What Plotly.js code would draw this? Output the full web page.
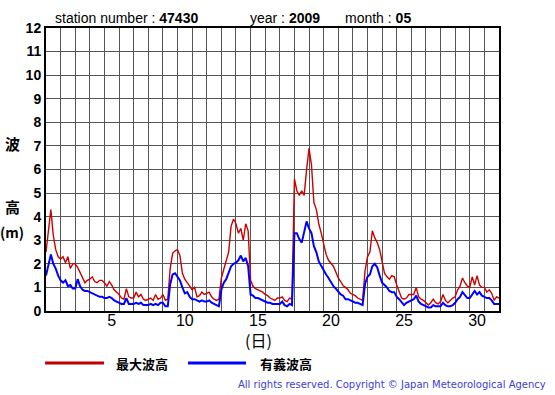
<!DOCTYPE html>
<html>
<head>
<meta charset="utf-8">
<script src="https://cdn.plot.ly/plotly-3.0.1.min.js"></script>
<style>
html,body{margin:0;padding:0;background:#fff;}
#chart{width:555px;height:395px;}
</style>
</head>
<body>
<div id="chart"></div>
<script>
// sampling step of the records (hours), starting 2009-05-01 00:00
var stepHours = 4;

// 最大波高 (m), 6 values per day, days 1..31, plus the closing value
var maxWave = [
  2.5, 3.4, 4.3, 3.2, 2.6, 2.3,
  2.2, 2.3, 2.05, 2.3, 1.8, 2.0,
  2.0, 1.85, 1.65, 1.4, 1.2, 1.3,
  1.35, 1.45, 1.25, 1.2, 1.3, 1.3,
  1.2, 1.05, 1.25, 1.1, 0.9, 0.8,
  0.7, 0.55, 0.5, 0.95, 0.6, 0.55,
  0.55, 0.8, 0.6, 0.7, 0.5, 0.45,
  0.5, 0.55, 0.45, 0.7, 0.5, 0.55,
  0.7, 0.45, 0.5, 1.8, 2.45, 2.55,
  2.6, 2.35, 1.6, 1.35, 1.2, 1.05,
  0.9, 1.0, 0.6, 0.65, 0.8, 0.7,
  0.75, 0.8, 0.6, 0.5, 0.45, 0.5,
  1.4, 1.8, 2.2, 2.5, 3.6, 3.9,
  3.7, 3.3, 3.5, 3.0, 3.7, 3.4,
  1.3, 1.05, 0.95, 0.9, 0.85, 0.8,
  0.7, 0.65, 0.55, 0.5, 0.45, 0.55,
  0.55, 0.6, 0.45, 0.4, 0.55, 0.5,
  5.6, 5.1, 4.9, 5.1, 4.9, 6.0,
  6.9, 6.2, 4.6, 4.3, 3.7, 3.3,
  2.8, 2.4, 2.15, 2.0, 1.9, 1.65,
  1.4, 1.25, 1.07, 1.0, 0.9, 0.75,
  0.7, 0.65, 0.55, 0.5, 0.45, 1.7,
  2.3, 2.5, 3.4, 3.1, 2.9, 2.6,
  2.1, 1.6, 1.45, 1.35, 1.5, 1.45,
  1.1, 0.8, 0.55, 0.5, 0.55, 0.7,
  0.7, 0.7, 1.0, 0.6, 0.5, 0.45,
  0.35, 0.25, 0.35, 0.5, 0.35, 0.3,
  0.4, 0.7, 0.45, 0.35, 0.45, 0.55,
  0.6, 0.9, 1.05, 1.4, 1.2, 1.05,
  1.0, 1.45, 1.1, 1.5, 1.1, 1.0,
  1.0, 0.8, 0.9, 0.75, 0.45, 0.6,
  0.55
];

// 有義波高 (m)
var sigWave = [
  1.5, 1.9, 2.4, 2.0, 1.8, 1.5,
  1.3, 1.2, 1.3, 1.05, 1.1, 0.95,
  0.95, 1.35, 1.05, 0.9, 0.85, 0.85,
  0.8, 0.75, 0.7, 0.65, 0.6, 0.6,
  0.55, 0.55, 0.6, 0.55, 0.45, 0.4,
  0.35, 0.3, 0.3, 0.55, 0.3, 0.3,
  0.3, 0.35, 0.3, 0.35, 0.25, 0.25,
  0.25, 0.3, 0.25, 0.3, 0.25, 0.35,
  0.35, 0.2, 0.2, 1.15, 1.55, 1.6,
  1.45, 1.3, 1.0, 0.75, 0.8, 0.6,
  0.5, 0.5, 0.45, 0.4, 0.45, 0.4,
  0.4, 0.45, 0.35, 0.3, 0.25, 0.2,
  0.9, 1.2, 1.35, 1.65, 1.9, 2.0,
  2.05, 2.15, 2.35, 2.1, 2.25, 1.9,
  0.7, 0.65, 0.55, 0.55, 0.5, 0.45,
  0.4, 0.35, 0.35, 0.3, 0.3, 0.3,
  0.3, 0.4, 0.25, 0.2, 0.3, 0.25,
  3.3, 3.3, 3.05, 2.9, 3.3, 3.8,
  3.5, 3.3, 2.75, 2.5, 2.1, 1.9,
  1.7, 1.55, 1.4, 1.2, 1.05, 0.95,
  0.8, 0.7, 0.65, 0.5, 0.5, 0.45,
  0.4, 0.35, 0.35, 0.3, 0.25, 1.15,
  1.45, 1.55, 1.9, 2.0, 1.85, 1.5,
  1.2, 1.1, 1.0, 0.85, 0.8, 0.8,
  0.6, 0.5, 0.35, 0.25, 0.35, 0.4,
  0.45, 0.5, 0.65, 0.4, 0.3, 0.25,
  0.2, 0.15, 0.15, 0.25, 0.2, 0.2,
  0.2, 0.35, 0.25, 0.2, 0.2, 0.25,
  0.35, 0.5, 0.6, 0.8, 0.65, 0.55,
  0.55, 0.7, 0.85, 0.7, 0.8, 0.65,
  0.6, 0.55, 0.55, 0.45, 0.3, 0.3,
  0.3
];

var dayTickVals = [5, 10, 15, 20, 25, 30];
var dayTickText = ['5', '10', '15', '20', '25', '30'];
var yTickVals = [0,1,2,3,4,5,6,7,8,9,10,11,12];

var seriesNames = ['最大波高', '有義波高'];
var stationNo = '47430', yearStr = '2009', monthStr = '05';

// time axis in days: the middle of day d sits at x = d
var xDays = maxWave.map(function(_, i){ return 0.5 + i * stepHours / 24; });

var traces = [
  {x: xDays, y: maxWave, type: 'scatter', mode: 'lines', name: seriesNames[0],
   line: {color: '#cc0000', width: 1.4}, showlegend: false, hoverinfo: 'skip'},
  {x: xDays, y: sigWave, type: 'scatter', mode: 'lines', name: seriesNames[1],
   line: {color: '#0000ff', width: 2}, showlegend: false, hoverinfo: 'skip'}
];

var cjk = '"Noto Sans CJK JP", sans-serif';
var sans = '"Liberation Sans", Arial, sans-serif';

var layout = {
  width: 555, height: 395,
  margin: {l: 46, r: 56, t: 28, b: 84, pad: 0},
  paper_bgcolor: '#ffffff', plot_bgcolor: '#ffffff',
  showlegend: false,
  xaxis: {
    range: [0.5, 31.5], tickmode: 'array', tickvals: dayTickVals, ticktext: dayTickText,
    showgrid: false, zeroline: false, ticks: '',
    showline: true, mirror: true, linecolor: '#000', linewidth: 2,
    ticklabelstandoff: -6,
    tickfont: {family: sans, size: 16, color: '#000'},
    minor: {tick0: 0.5, dtick: 1, showgrid: true, gridcolor: '#555', gridwidth: 1, ticks: ''}
  },
  yaxis: {
    range: [0, 12], tickmode: 'array', tickvals: yTickVals,
    showgrid: true, gridcolor: '#555', gridwidth: 1, zeroline: false, ticks: '',
    showline: true, mirror: true, linecolor: '#000', linewidth: 2,
    ticklabelstandoff: 0,
    tickfont: {family: sans, size: 14, color: '#000', weight: 'bold'}
  },
  shapes: [
    {type: 'line', xref: 'paper', yref: 'paper', x0: -0.002, x1: 0.128, y0: -0.184, y1: -0.184,
     line: {color: '#c00000', width: 3}},
    {type: 'line', xref: 'paper', yref: 'paper', x0: 0.3135, x1: 0.4415, y0: -0.184, y1: -0.184,
     line: {color: '#0000ff', width: 3}}
  ],
  annotations: [
    {text: 'station number : <b>' + stationNo + '</b>', xref: 'paper', yref: 'paper', x: 0.0155, y: 1.0364,
     xanchor: 'left', yanchor: 'middle', showarrow: false, font: {family: sans, size: 14, color: '#000'}},
    {text: 'year : <b>' + yearStr + '</b>', xref: 'paper', yref: 'paper', x: 0.4460, y: 1.0364,
     xanchor: 'left', yanchor: 'middle', showarrow: false, font: {family: sans, size: 14, color: '#000'}},
    {text: 'month : <b>' + monthStr + '</b>', xref: 'paper', yref: 'paper', x: 0.6556, y: 1.0364,
     xanchor: 'left', yanchor: 'middle', showarrow: false, font: {family: sans, size: 14, color: '#000'}},
    {text: '<b>波</b>', xref: 'paper', yref: 'paper', x: -0.074, y: 0.5936,
     xanchor: 'center', yanchor: 'middle', showarrow: false, font: {family: cjk, size: 15, color: '#000'}},
    {text: '<b>高</b>', xref: 'paper', yref: 'paper', x: -0.074, y: 0.3675,
     xanchor: 'center', yanchor: 'middle', showarrow: false, font: {family: cjk, size: 15, color: '#000'}},
    {text: '<b>(m)</b>', xref: 'paper', yref: 'paper', x: -0.075, y: 0.279,
     xanchor: 'center', yanchor: 'middle', showarrow: false, font: {family: cjk, size: 14, color: '#000'}},
    {text: '(日)', xref: 'paper', yref: 'paper', x: 0.470, y: -0.1042,
     xanchor: 'center', yanchor: 'middle', showarrow: false, font: {family: cjk, size: 16, color: '#000'}},
    {text: '<b>' + seriesNames[0] + '</b>', xref: 'paper', yref: 'paper', x: 0.212, y: -0.184,
     xanchor: 'center', yanchor: 'middle', showarrow: false, font: {family: cjk, size: 13, color: '#000'}},
    {text: '<b>' + seriesNames[1] + '</b>', xref: 'paper', yref: 'paper', x: 0.5287, y: -0.184,
     xanchor: 'center', yanchor: 'middle', showarrow: false, font: {family: cjk, size: 13, color: '#000'}},
    {text: 'All rights reserved. Copyright © Japan Meteorological Agency', xref: 'paper', yref: 'paper',
     x: 1.108, y: -0.258, xanchor: 'right', yanchor: 'middle', showarrow: false,
     font: {family: '"DejaVu Sans", Verdana, sans-serif', size: 10, color: '#4040dd'}}
  ]
};

Plotly.newPlot('chart', traces, layout, {staticPlot: true, displayModeBar: false});
</script>
</body>
</html>
